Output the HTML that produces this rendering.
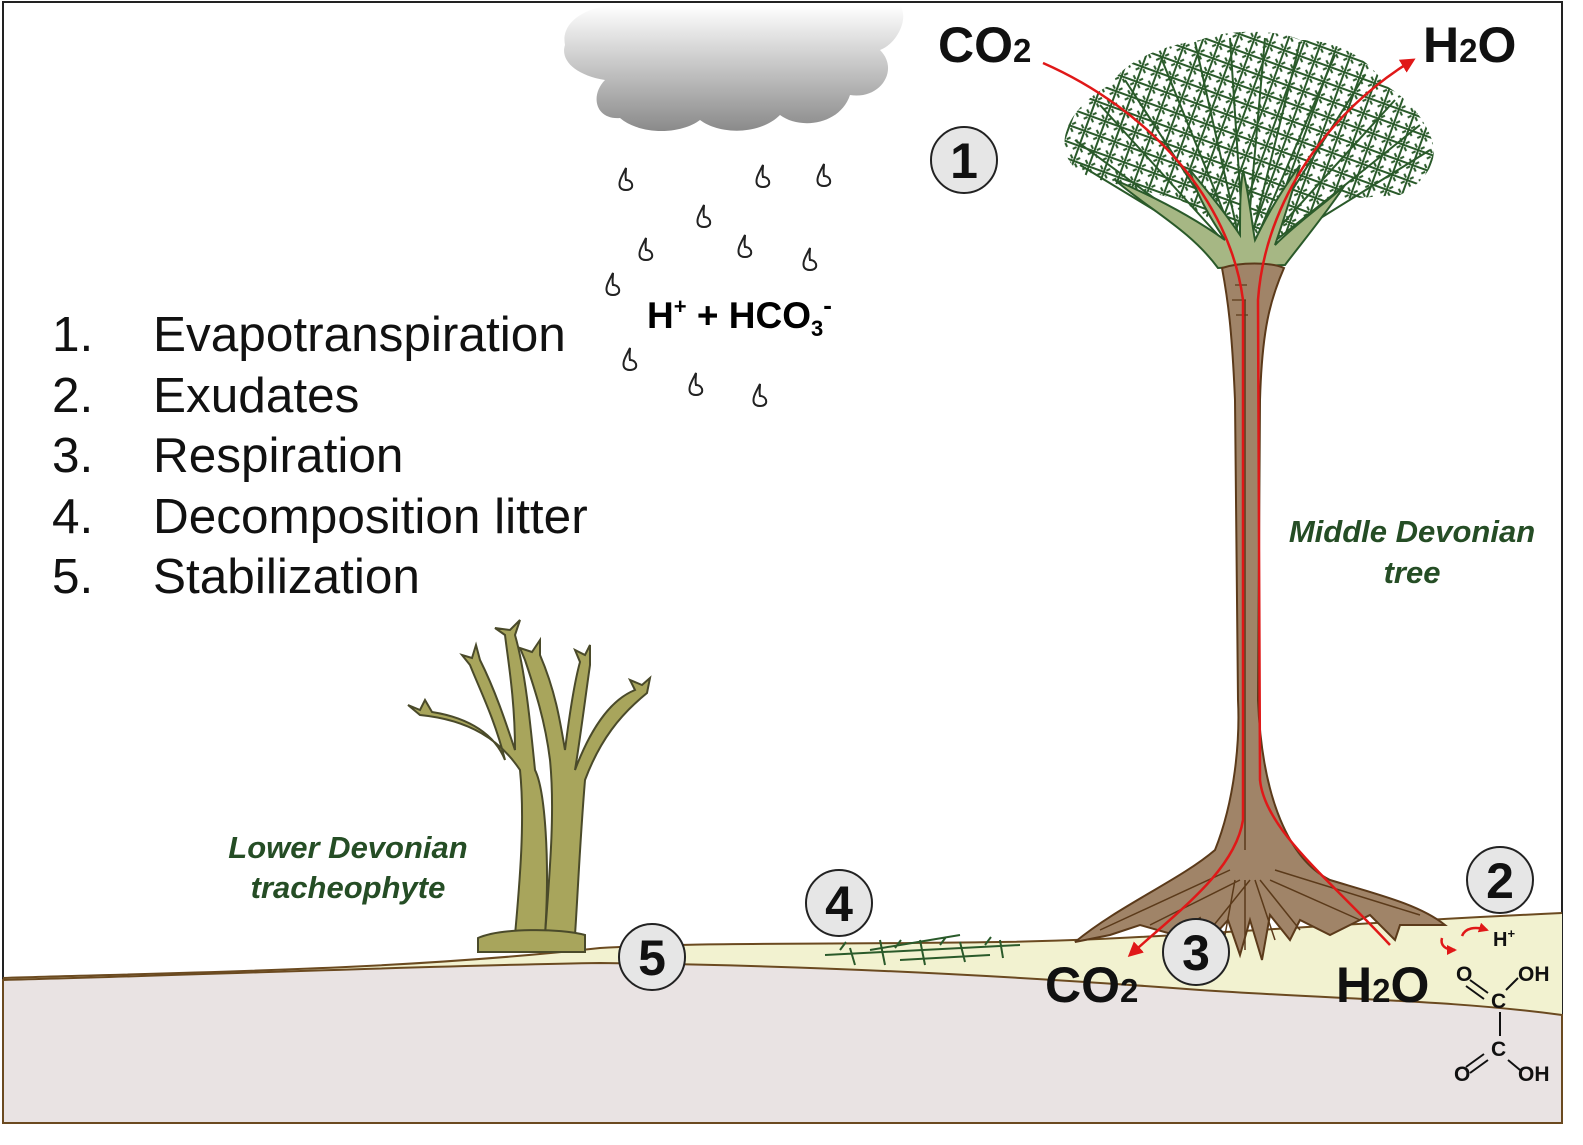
<!DOCTYPE html>
<html><head><meta charset="utf-8"><style>
html,body{margin:0;padding:0;background:#fff;}
svg{display:block;font-family:"Liberation Sans",Arial,sans-serif;}
</style></head><body>
<svg width="1583" height="1145" viewBox="0 0 1583 1145" xmlns="http://www.w3.org/2000/svg">
<defs>
<linearGradient id="cg" x1="0" y1="0" x2="0" y2="1">
<stop offset="0" stop-color="#ffffff"/><stop offset="1" stop-color="#8a8a8a"/></linearGradient>
<pattern id="lat" width="16" height="16" patternUnits="userSpaceOnUse" patternTransform="rotate(20)">
<path d="M0,8 L16,8 M8,0 L8,16 M3,3 L6,6 M13,3 L10,6 M3,13 L6,10 M13,13 L10,10" stroke="#2a5a2a" stroke-width="2" fill="none"/>
</pattern>
<marker id="ar" viewBox="0 0 10 10" refX="8" refY="5" markerWidth="6" markerHeight="6" orient="auto"><path d="M0,0L10,5L0,10z" fill="#e01818"/></marker>
<marker id="ar2" viewBox="0 0 10 10" refX="8" refY="5" markerWidth="4" markerHeight="4" orient="auto"><path d="M0,0L10,5L0,10z" fill="#e01818"/></marker>
</defs>
<rect x="3" y="2" width="1559" height="1121" fill="#fff" stroke="#222" stroke-width="2"/>
<!-- ground -->
<path d="M3,978 C200,972 400,970 600,948 C700,942 800,945 1000,942 C1150,940 1300,925 1562,913 L1562,1123 L3,1123 Z" fill="#f2f2d0"/>
<path d="M3,980 C200,975 450,965 600,963 C800,965 1000,975 1200,990 C1350,1000 1450,1000 1562,1015 L1562,1123 L3,1123 Z" fill="#e9e3e3" stroke="#6b4a20" stroke-width="2"/>
<path d="M3,978 C200,972 400,970 600,948 C700,942 800,945 1000,942 C1150,940 1300,925 1562,913" fill="none" stroke="#6b4a20" stroke-width="2"/>
<!-- cloud -->
<path d="M565,45 C560,20 590,5 620,5 L900,5 C910,20 895,45 880,50 C900,70 880,100 850,95 C840,125 800,130 780,115 C760,135 720,135 700,120 C680,135 640,135 620,118 C595,120 590,95 605,80 C575,75 560,60 565,45 Z" fill="url(#cg)"/>
<!-- raindrops -->
<g fill="none" stroke="#222" stroke-width="2">
<path id="d" d="M0,-14 C-4,-6 -8,0 -6,5 C-4,9 4,9 6,5 C7,1 4,-2 0,-2 C-1,-6 0,-10 0,-14Z" transform="translate(626,182)"/>
<use href="#d" x="137" y="-3"/><use href="#d" x="198" y="-4"/><use href="#d" x="78" y="37"/>
<use href="#d" x="20" y="70"/><use href="#d" x="119" y="67"/><use href="#d" x="184" y="80"/>
<use href="#d" x="-13" y="105"/><use href="#d" x="4" y="180"/><use href="#d" x="70" y="205"/><use href="#d" x="134" y="216"/>
</g>
<text x="647" y="328" font-size="37" font-weight="bold">H<tspan font-size="22" dy="-14">+</tspan><tspan dy="14"> + HCO</tspan><tspan font-size="22" dy="8">3</tspan><tspan font-size="26" dy="-22">-</tspan></text>
<!-- list -->
<g font-size="49.5" fill="#111">
<text x="52" y="351">1.</text><text x="153" y="351">Evapotranspiration</text>
<text x="52" y="412">2.</text><text x="153" y="412">Exudates</text>
<text x="52" y="472">3.</text><text x="153" y="472">Respiration</text>
<text x="52" y="533">4.</text><text x="153" y="533">Decomposition litter</text>
<text x="52" y="593">5.</text><text x="153" y="593">Stabilization</text>
</g>
<!-- tree crown -->
<path d="M1065,150 C1060,120 1090,95 1110,85 C1130,55 1170,45 1200,40 C1230,28 1280,30 1300,40 C1340,40 1370,60 1385,85 C1410,100 1425,120 1432,140 C1440,165 1420,185 1400,195 L1330,200 L1260,250 L1180,200 L1100,180 C1080,175 1068,165 1065,150 Z" fill="url(#lat)"/>
<g stroke="#2a5a2a" stroke-width="2" fill="none">
<path d="M1245,265 L1075,140 M1245,265 L1100,105 M1245,265 L1125,80 M1245,265 L1160,55 M1245,265 L1195,42 M1245,265 L1230,38 M1245,265 L1265,38 M1245,265 L1300,42 M1245,265 L1335,55 M1245,265 L1365,75 M1245,265 L1395,100 M1245,265 L1420,125 M1245,265 L1430,150 M1245,265 L1080,165"/>
</g>
<path d="M1218,268 C1190,230 1150,210 1115,180 C1150,195 1190,215 1225,240 C1205,210 1195,190 1190,170 C1215,200 1230,220 1240,235 C1240,210 1240,190 1243,170 C1250,200 1252,225 1255,240 C1265,220 1275,200 1300,165 C1290,200 1282,225 1275,245 C1300,220 1330,200 1345,185 C1325,215 1300,245 1285,265 Z" fill="#a6b784" stroke="#2a5a2a" stroke-width="2"/>
<!-- trunk -->
<path d="M1222,268 C1240,262 1270,262 1284,268 C1270,300 1262,330 1260,400 L1258,700 C1262,800 1290,860 1330,880 C1380,895 1420,905 1445,925 L1400,925 L1395,940 L1370,915 L1330,935 L1300,920 L1290,940 L1270,915 L1262,960 L1250,920 L1240,955 L1228,920 L1210,940 L1200,918 L1175,935 L1140,925 L1110,935 L1075,942 C1120,905 1180,880 1215,850 C1235,800 1240,740 1238,700 L1235,400 C1232,330 1228,300 1222,268 Z" fill="#a08468" stroke="#5b3a1a" stroke-width="2"/>
<g stroke="#5b3a1a" stroke-width="1.5" fill="none">
<path d="M1245,300 L1245,850 M1250,880 L1210,930 M1260,880 L1300,930 M1240,880 L1150,925 M1270,880 L1360,920 M1275,870 L1420,915 M1230,870 L1100,930 M1245,880 L1245,950 M1255,880 L1275,940 M1235,880 L1225,935"/>
<path d="M1235,285 l12,0 M1232,300 l14,0 M1236,315 l12,0" stroke-width="1.2"/>
</g>
<!-- red paths -->
<g stroke="#e01818" stroke-width="2.5" fill="none">
<path d="M1043,63 C1150,110 1230,200 1243,300 L1243,820 C1235,870 1180,910 1130,955" marker-end="url(#ar)"/>
<path d="M1390,945 C1330,880 1265,830 1260,780 L1258,300 C1265,200 1330,110 1413,60" marker-end="url(#ar)"/>
<path d="M1462,936 C1465,928 1475,926 1487,930" marker-end="url(#ar2)"/>
<path d="M1442,938 C1440,945 1445,950 1455,950" marker-end="url(#ar2)"/>
</g>
<!-- left plant -->
<g fill="#a8a55c" stroke="#4a4a2a" stroke-width="2">
<path d="M515,935 C520,880 525,820 520,770 C500,740 470,720 420,715 L408,705 L420,710 L425,700 L432,712 C470,718 495,735 505,760 C495,720 480,690 470,665 L462,655 L472,658 L476,645 L480,660 C495,690 505,720 515,750 C515,700 508,660 505,635 L495,628 L510,630 L520,620 L515,635 C525,670 530,720 535,770 C545,790 550,860 545,935 Z"/>
<path d="M545,935 C550,870 555,810 550,760 C545,720 535,690 525,660 L520,648 L532,652 L540,640 L540,655 C555,690 560,720 565,750 C570,710 575,680 580,662 L575,650 L585,655 L590,645 L590,665 C585,700 580,740 575,770 C590,730 610,700 635,690 L630,680 L642,685 L650,678 L647,693 C620,715 600,740 585,780 C580,840 578,890 575,935 Z"/>
<path d="M478,952 L478,938 C500,928 560,928 585,935 L585,952 Z"/>
</g>
<text x="348" y="858" font-size="31" font-weight="bold" font-style="italic" fill="#254d25" text-anchor="middle">Lower Devonian</text>
<text x="348" y="898" font-size="31" font-weight="bold" font-style="italic" fill="#254d25" text-anchor="middle">tracheophyte</text>
<text x="1412" y="542" font-size="31" font-weight="bold" font-style="italic" fill="#254d25" text-anchor="middle">Middle Devonian</text>
<text x="1412" y="583" font-size="31" font-weight="bold" font-style="italic" fill="#254d25" text-anchor="middle">tree</text>
<!-- litter -->
<g stroke="#2a5a2a" stroke-width="2" fill="none">
<path d="M825,955 L1020,945 M870,950 L960,935 M900,960 L990,955 M880,940 L885,965 M920,940 L925,965 M960,942 L965,962 M1000,940 L1003,958 M850,948 L855,965 M840,950 l6,-8 M895,948 l6,-8 M940,945 l6,-8 M985,945 l6,-8"/>
</g>
<!-- labels -->
<g font-weight="bold" fill="#111">
<text x="938" y="62" font-size="50">CO<tspan font-size="33">2</tspan></text>
<text x="1423" y="62" font-size="50">H<tspan font-size="33">2</tspan>O</text>
<text x="1045" y="1002" font-size="50">CO<tspan font-size="33">2</tspan></text>
<text x="1336" y="1002" font-size="50">H<tspan font-size="33">2</tspan>O</text>
<text x="1493" y="946" font-size="20">H<tspan font-size="13" dy="-8">+</tspan></text>
</g>
<!-- oxalic acid -->
<g font-size="21" fill="#111" font-weight="bold">
<text x="1456" y="981">O</text><text x="1518" y="981">OH</text>
<text x="1491" y="1008">C</text><text x="1491" y="1056">C</text>
<text x="1454" y="1081">O</text><text x="1518" y="1081">OH</text>
</g>
<g stroke="#111" stroke-width="2">
<path d="M1470,980 L1488,993 M1466,986 L1484,999 M1518,978 L1506,990 M1500,1012 L1500,1036 M1488,1060 L1470,1073 M1484,1054 L1466,1067 M1508,1060 L1520,1070"/>
</g>
<!-- circles -->
<g stroke="#222" stroke-width="2" fill="#e6e6e6">
<circle cx="964" cy="160" r="33"/><circle cx="1500" cy="880" r="33"/>
<circle cx="1196" cy="952" r="33"/><circle cx="839" cy="903" r="33"/><circle cx="652" cy="957" r="33"/>
</g>
<g font-size="50" font-weight="bold" text-anchor="middle" fill="#111">
<text x="964" y="178">1</text><text x="1500" y="898">2</text><text x="1196" y="970">3</text>
<text x="839" y="921">4</text><text x="652" y="975">5</text>
</g>
</svg>
</body></html>
